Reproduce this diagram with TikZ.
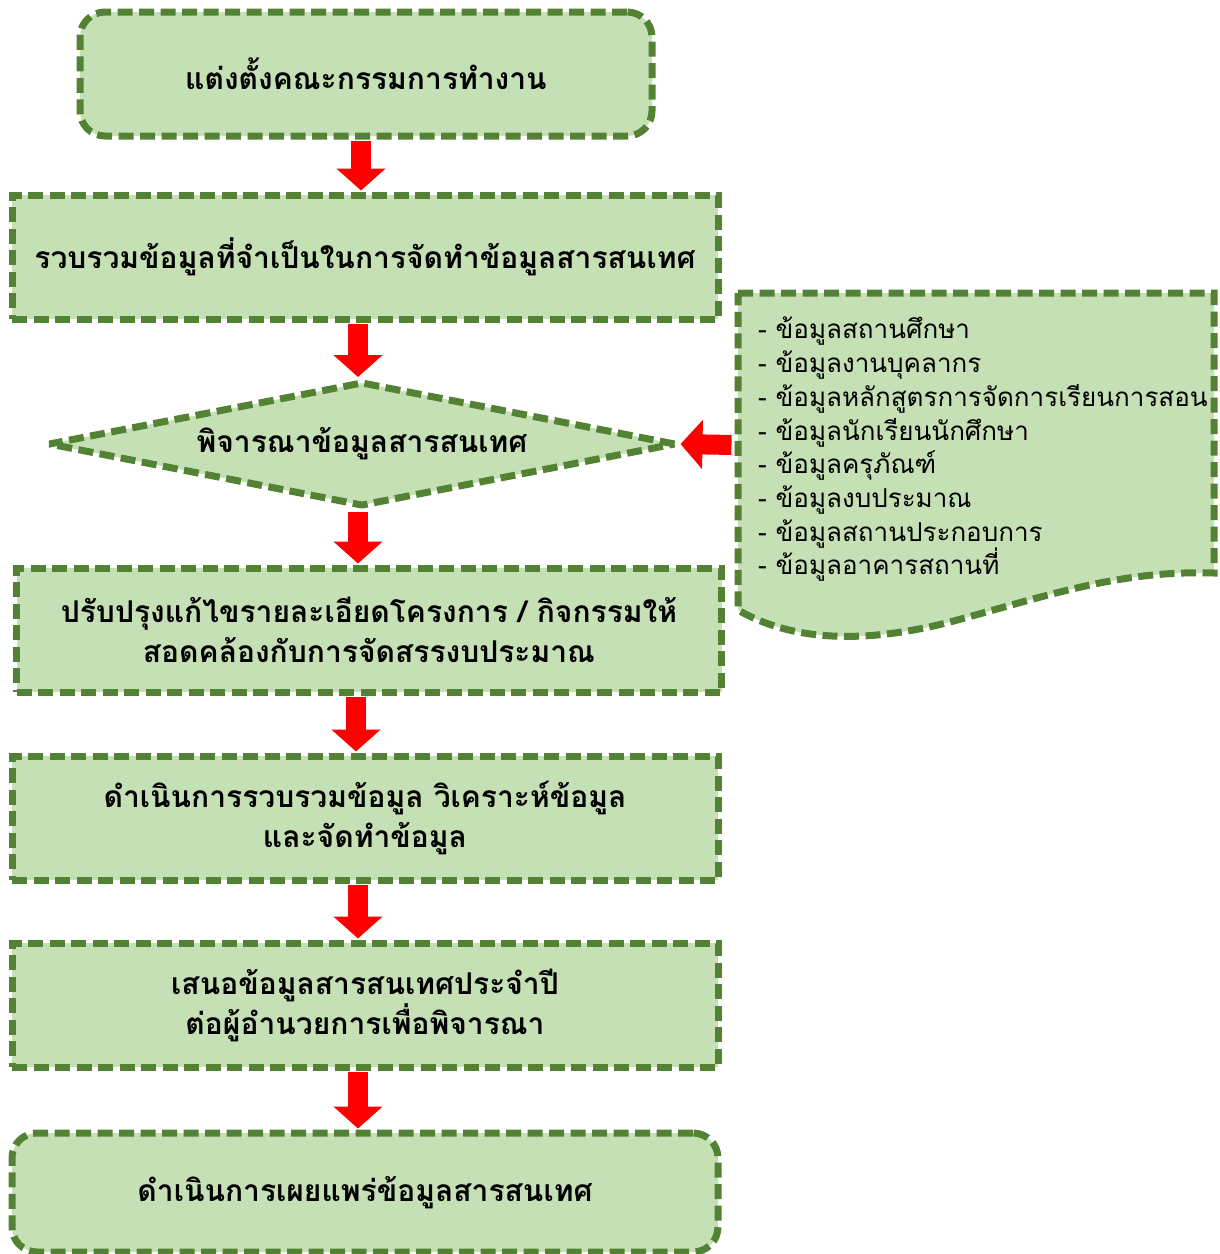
\documentclass[tikz,border=0pt]{standalone}
\usepackage{fontspec}
\usetikzlibrary{arrows.meta,shapes.geometric}
\newfontfamily\thai[Script=Thai]{Loma}
\definecolor{dgreen}{HTML}{548235}
\definecolor{lgreen}{HTML}{C5E0B4}
\begin{document}
\begin{tikzpicture}[x=1pt,y=-1pt,
  outline/.style={draw=dgreen, fill=lgreen, line width=7pt, dash pattern=on 15pt off 6.5pt},
  stepbox/.style={outline, minimum width=706pt, minimum height=124pt, inner sep=0pt,
    align=center, font=\thai\bfseries\fontsize{30}{40}\selectfont},
  roundbox/.style={stepbox, rounded corners=25pt},
  decision/.style={outline, line join=bevel, diamond, aspect=5, minimum width=628pt, minimum height=125pt, inner sep=0pt,
    align=center, font=\thai\bfseries\fontsize{30}{40}\selectfont},
  flow/.style={draw=red, line width=20pt, -{Triangle[width=48pt,length=22pt]}, shorten <=1.5pt, shorten >=1pt},
  listtext/.style={align=left, inner sep=0pt, anchor=north west, font=\thai\fontsize{26}{33.7}\selectfont}
]
\useasboundingbox (0,0) rectangle (1220,1254);
\node[roundbox, minimum width=572pt] (b1) at (366,74) {แต่งตั้งคณะกรรมการทำงาน};
\node[stepbox] (b2) at (365,257) {รวบรวมข้อมูลที่จำเป็นในการจัดทำข้อมูลสารสนเทศ};
\node[decision] (b3) at (362,444) {พิจารณาข้อมูลสารสนเทศ};
\node[stepbox, minimum width=705pt] (b4) at (369,630) {ปรับปรุงแก้ไขรายละเอียดโครงการ / กิจกรรมให้\\สอดคล้องกับการจัดสรรงบประมาณ};
\node[stepbox] (b5) at (365,818) {ดำเนินการรวบรวมข้อมูล วิเคราะห์ข้อมูล\\และจัดทำข้อมูล};
\node[stepbox] (b6) at (365,1005) {เสนอข้อมูลสารสนเทศประจำปี\\ต่อผู้อำนวยการเพื่อพิจารณา};
\node[roundbox, minimum height=119pt] (b7) at (365,1192.5) {ดำเนินการเผยแพร่ข้อมูลสารสนเทศ};
% document shape
\draw[outline] (738,293) -- (1214,293) -- (1214,573)
  .. controls (1120,570) and (1050,595) .. (950,622)
  .. controls (860,645) and (790,640) .. (738,610) -- cycle;
\node[listtext] (list) at (758,317) {- ข้อมูลสถานศึกษา\\- ข้อมูลงานบุคลากร\\- ข้อมูลหลักสูตรการจัดการเรียนการสอน\\- ข้อมูลนักเรียนนักศึกษา\\- ข้อมูลครุภัณฑ์\\- ข้อมูลงบประมาณ\\- ข้อมูลสถานประกอบการ\\- ข้อมูลอาคารสถานที่};
\coordinate (docleft) at (733,445);
\coordinate (x1) at (361,0);
\coordinate (x2) at (358,0);
\coordinate (x4) at (356,0);
\draw[flow] (b1.south -| x1) -- (b2.north -| x1);
\draw[flow] (b2.south -| x2) -- (b3.north -| x2);
\draw[flow] (b3.south -| x2) -- (b4.north -| x2);
\draw[flow] (b4.south -| x4) -- (b5.north -| x4);
\draw[flow] (b5.south -| x2) -- (b6.north -| x2);
\draw[flow] (b6.south -| x2) -- (b7.north -| x2);
\draw[flow] (docleft) -- (b3.east);
\end{tikzpicture}
\end{document}
